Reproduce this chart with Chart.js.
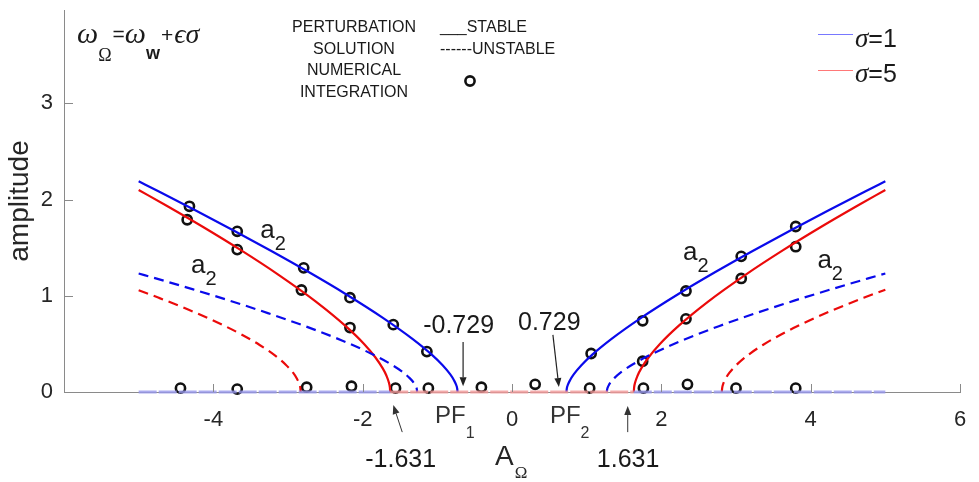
<!DOCTYPE html>
<html><head><meta charset="utf-8">
<script src="https://cdn.jsdelivr.net/npm/chart.js@4"></script>
<style>html,body{margin:0;padding:0;background:#fff}</style>
</head><body><canvas id="c" width="979" height="482"></canvas>
<script>
// ---- data ----
const xTicks = [-6, -4, -2, 0, 2, 4, 6];
const yTicks = [0, 1, 2, 3];

// sigma = 1, stable (solid blue)
const blueStableL_A = [-5, -4.729, -4.229, -3.729, -3.229, -2.729, -2.229, -1.729, -1.329, -1.079, -0.929, -0.829, -0.779, -0.749, -0.734, -0.729];
const blueStableL_a = [2.19, 2.084, 1.884, 1.679, 1.468, 1.249, 1.019, 0.771, 0.55, 0.391, 0.278, 0.185, 0.125, 0.076, 0.036, 0];
const blueStableR_A = [0.729, 0.734, 0.749, 0.779, 0.829, 0.929, 1.079, 1.329, 1.729, 2.229, 2.729, 3.229, 3.729, 4.229, 4.729, 5];
const blueStableR_a = [0, 0.036, 0.076, 0.125, 0.185, 0.278, 0.391, 0.55, 0.771, 1.019, 1.249, 1.468, 1.679, 1.884, 2.084, 2.19];
// sigma = 5, stable (solid red)
const redStableL_A = [-5, -4.631, -4.131, -3.631, -3.131, -2.631, -2.231, -1.981, -1.831, -1.731, -1.681, -1.651, -1.636, -1.631];
const redStableL_a = [2.10, 1.938, 1.712, 1.474, 1.22, 0.942, 0.687, 0.499, 0.361, 0.245, 0.169, 0.104, 0.05, 0];
const redStableR_A = [1.631, 1.636, 1.651, 1.681, 1.731, 1.831, 1.981, 2.231, 2.631, 3.131, 3.631, 4.131, 4.631, 5];
const redStableR_a = [0, 0.05, 0.104, 0.169, 0.245, 0.361, 0.499, 0.687, 0.942, 1.22, 1.474, 1.712, 1.938, 2.10];
// sigma = 1, unstable (dashed blue)
const blueUnstL_A = [-5, -4.77, -4.27, -3.77, -3.27, -2.77, -2.27, -1.87, -1.62, -1.47, -1.37, -1.32, -1.29, -1.275, -1.27];
const blueUnstL_a = [1.232, 1.181, 1.066, 0.947, 0.82, 0.684, 0.533, 0.393, 0.288, 0.211, 0.144, 0.10, 0.061, 0.03, 0];
const blueUnstR_A = [1.27, 1.275, 1.29, 1.32, 1.37, 1.47, 1.62, 1.87, 2.27, 2.77, 3.27, 3.77, 4.27, 4.77, 5];
const blueUnstR_a = [0, 0.03, 0.061, 0.10, 0.144, 0.211, 0.288, 0.393, 0.533, 0.684, 0.82, 0.947, 1.066, 1.181, 1.232];
// sigma = 5, unstable (dashed red)
const redUnstL_A = [-5, -4.73, -4.33, -3.93, -3.63, -3.38, -3.18, -3.03, -2.93, -2.88, -2.85, -2.835, -2.83];
const redUnstL_a = [1.058, 0.979, 0.855, 0.717, 0.601, 0.489, 0.383, 0.284, 0.198, 0.138, 0.087, 0.043, 0];
const redUnstR_A = [2.81, 2.815, 2.83, 2.86, 2.91, 3.01, 3.16, 3.36, 3.61, 3.91, 4.31, 4.71, 5];
const redUnstR_a = [0, 0.043, 0.087, 0.138, 0.198, 0.284, 0.383, 0.489, 0.601, 0.717, 0.855, 0.979, 1.063];
// trivial solution a = 0
const trivialOuterL_A = [-5, -1.631];
const trivialOuterR_A = [1.631, 5];
const trivialInner_A = [-1.631, 1.631];
// numerical integration points
const numA = [-4.32, -4.35, -3.68, -3.68, -2.79, -2.82, -2.17, -2.17, -1.59, -1.14,
              1.06, 1.75, 1.75, 2.33, 2.33, 3.07, 3.07, 3.80, 3.80,
              -4.44, -3.68, -2.75, -2.15, -1.56, -1.12, -0.41, 0.31, 1.04, 1.76, 2.35, 3.0, 3.8];
const numAmp = [1.93, 1.79, 1.67, 1.48, 1.29, 1.06, 0.98, 0.67, 0.70, 0.42,
                0.40, 0.74, 0.32, 1.05, 0.76, 1.41, 1.18, 1.72, 1.51,
                0.04, 0.03, 0.05, 0.06, 0.04, 0.04, 0.05, 0.08, 0.04, 0.04, 0.08, 0.04, 0.04];

// ---- build chart ----
const pts = (xs, ys) => xs.map((x, i) => ({x, y: ys[i]}));
const zeros = xs => xs.map(() => 0);
const BLUE = 'rgb(10,10,235)', RED = 'rgb(235,10,10)';
const LAV = 'rgba(150,150,235,0.8)', PINK = 'rgba(240,150,150,0.8)';
function line(data, color, dash, w) {
  return {data, showLine: true, borderColor: color, backgroundColor: color, borderWidth: w || 2.2,
          borderDash: dash || [], pointRadius: 0, cubicInterpolationMode: 'monotone', clip: false};
}
const datasets = [
  line(pts(trivialOuterL_A, zeros(trivialOuterL_A)), LAV, [18, 2], 3),
  line(pts(trivialOuterR_A, zeros(trivialOuterR_A)), LAV, [18, 2], 3),
  line(pts(trivialInner_A, zeros(trivialInner_A)), PINK, [18, 2], 3),
  line(pts(blueUnstL_A, blueUnstL_a), BLUE, [10, 6]),
  line(pts(blueUnstR_A, blueUnstR_a), BLUE, [10, 6]),
  line(pts(redUnstL_A, redUnstL_a), RED, [10, 6]),
  line(pts(redUnstR_A, redUnstR_a), RED, [10, 6]),
  line(pts(blueStableL_A, blueStableL_a), BLUE),
  line(pts(blueStableR_A, blueStableR_a), BLUE),
  line(pts(redStableL_A, redStableL_a), RED),
  line(pts(redStableR_A, redStableR_a), RED),
  {data: pts(numA, numAmp), showLine: false, pointRadius: 4.6, pointBorderWidth: 2.6,
   pointBorderColor: '#111', pointBackgroundColor: 'rgba(0,0,0,0)', clip: false}
];

const TXT = '#262626', AX = '#8a8a8a';
const SANS = '"Liberation Sans", Arial, sans-serif';
const SERIF = '"Liberation Serif", "Times New Roman", serif';

function runs(ctx, x, y, list) {
  for (const r of list) {
    ctx.font = r.f;
    ctx.fillText(r.t, x, y + (r.dy || 0));
    x += ctx.measureText(r.t).width + (r.sp || 0);
  }
}
function arrow(ctx, x1, y1, x2, y2, color, w) {
  const ang = Math.atan2(y2 - y1, x2 - x1), L = 9, W = 3.5;
  ctx.strokeStyle = color; ctx.fillStyle = color; ctx.lineWidth = w;
  ctx.beginPath(); ctx.moveTo(x1, y1);
  ctx.lineTo(x2 - L * Math.cos(ang), y2 - L * Math.sin(ang)); ctx.stroke();
  ctx.beginPath(); ctx.moveTo(x2, y2);
  ctx.lineTo(x2 - L * Math.cos(ang) + W * Math.sin(ang), y2 - L * Math.sin(ang) - W * Math.cos(ang));
  ctx.lineTo(x2 - L * Math.cos(ang) - W * Math.sin(ang), y2 - L * Math.sin(ang) + W * Math.cos(ang));
  ctx.closePath(); ctx.fill();
}

const deco = {
  id: 'deco',
  afterDraw(chart) {
    const ctx = chart.ctx, xs = chart.scales.x, ys = chart.scales.y;
    const X = v => xs.getPixelForValue(v), Y = v => ys.getPixelForValue(v);
    ctx.save();
    // inward tick marks
    ctx.strokeStyle = AX; ctx.lineWidth = 1;
    xTicks.forEach(t => { if (t === xTicks[0]) return; const p = Math.round(X(t)) + 0.5;
      ctx.beginPath(); ctx.moveTo(p, Y(0)); ctx.lineTo(p, Y(0) - 8); ctx.stroke(); });
    yTicks.forEach(t => { const p = Math.round(Y(t)) + 0.5;
      ctx.beginPath(); ctx.moveTo(X(-6), p); ctx.lineTo(X(-6) + 9, p); ctx.stroke(); });

    ctx.fillStyle = '#1a1a1a'; ctx.textBaseline = 'alphabetic'; ctx.textAlign = 'left';
    // formula
    runs(ctx, 77, 43, [
      {t: 'ω', f: 'italic 30px ' + SERIF},
      {t: 'Ω', f: '18px ' + SERIF, dy: 18, sp: 1},
      {t: '=', f: '21px ' + SANS, dy: -2},
      {t: 'ω', f: 'italic 30px ' + SERIF},
      {t: 'w', f: 'bold 18px ' + SANS, dy: 16, sp: 1},
      {t: '+', f: '21px ' + SANS, dy: -1, sp: 1},
      {t: 'ϵσ', f: 'italic 28px ' + SERIF}
    ]);
    // perturbation legend text
    ctx.font = '16px ' + SANS; ctx.textAlign = 'center';
    ['PERTURBATION', 'SOLUTION', 'NUMERICAL', 'INTEGRATION'].forEach((s, i) => ctx.fillText(s, 354, 32 + i * 21.7));
    ctx.textAlign = 'left';
    ctx.fillText('___STABLE', 440, 32);
    ctx.fillText('------UNSTABLE', 440, 53.5);
    ctx.beginPath(); ctx.lineWidth = 2.6; ctx.strokeStyle = '#111';
    ctx.arc(470, 81, 4.6, 0, Math.PI * 2); ctx.stroke();
    // sigma legend
    ctx.lineWidth = 1.2;
    ctx.strokeStyle = 'rgb(120,120,255)'; ctx.beginPath(); ctx.moveTo(818, 34.5); ctx.lineTo(853, 34.5); ctx.stroke();
    ctx.strokeStyle = 'rgb(255,120,120)'; ctx.beginPath(); ctx.moveTo(818, 70.5); ctx.lineTo(853, 70.5); ctx.stroke();
    ctx.fillStyle = '#1a1a1a';
    runs(ctx, 855, 47, [{t: 'σ', f: 'italic 27px ' + SERIF}, {t: '=1', f: '25px ' + SANS}]);
    runs(ctx, 855, 82, [{t: 'σ', f: 'italic 27px ' + SERIF}, {t: '=5', f: '25px ' + SANS}]);

    // a2 labels
    const a2 = (A, a) => runs(ctx, X(A), Y(a), [{t: 'a', f: '26px ' + SANS}, {t: '2', f: '20px ' + SANS, dy: 12}]);
    a2(-3.37, 1.60); a2(-4.30, 1.24); a2(2.29, 1.375); a2(4.09, 1.29);

    // bifurcation annotations
    ctx.font = '25px ' + SANS;
    ctx.fillText('-0.729', X(-1.19), Y(0.615));
    ctx.fillText('0.729', X(0.08), Y(0.646));
    ctx.fillText('-1.631', X(-1.965), Y(-0.78));
    ctx.fillText('1.631', X(1.136), Y(-0.78));
    arrow(ctx, X(-0.655), Y(0.52), X(-0.655), Y(0.06), '#222', 1.2);
    arrow(ctx, X(0.548), Y(0.594), X(0.628), Y(0.052), '#222', 1.2);
    arrow(ctx, X(-1.47), Y(-0.417), X(-1.59), Y(-0.135), '#333', 1);
    arrow(ctx, X(1.55), Y(-0.417), X(1.55), Y(-0.146), '#333', 1);
    runs(ctx, X(-1.03), Y(-0.323), [{t: 'PF', f: '24px ' + SANS}, {t: '1', f: '16px ' + SANS, dy: 15, sp: 2}]);
    runs(ctx, X(0.508), Y(-0.323), [{t: 'PF', f: '24px ' + SANS}, {t: '2', f: '16px ' + SANS, dy: 15, sp: 2}]);
    // x axis title
    ctx.fillStyle = TXT;
    runs(ctx, X(-0.227), Y(-0.76), [{t: 'A', f: '28px ' + SANS, sp: 1}, {t: 'Ω', f: '17px ' + SERIF, dy: 13}]);
    ctx.restore();
  }
};

new Chart(document.getElementById('c'), {
  type: 'scatter',
  data: {datasets},
  options: {
    responsive: false, animation: false, devicePixelRatio: 1,
    layout: {padding: {top: 10, right: 19, bottom: 0, left: 0}},
    plugins: {legend: {display: false}, tooltip: {enabled: false}},
    scales: {
      x: {
        type: 'linear', min: -6, max: 6,
        afterBuildTicks: s => { s.ticks = xTicks.map(v => ({value: v})); },
        afterFit: s => { s.height = 90; s.paddingLeft = 0; s.paddingRight = 0; },
        grid: {display: false, drawTicks: false},
        border: {display: true, color: AX, width: 1},
        ticks: {padding: 15, color: TXT, font: {family: SANS, size: 22},
                callback: v => (v === xTicks[0] ? '' : String(v))}
      },
      y: {
        type: 'linear', min: 0, max: 3.97,
        afterBuildTicks: s => { s.ticks = yTicks.map(v => ({value: v})); },
        afterFit: s => { s.width = 64; s.paddingTop = 0; s.paddingBottom = 0; },
        grid: {display: false, drawTicks: false},
        border: {display: true, color: AX, width: 1},
        ticks: {padding: 11, color: TXT, font: {family: SANS, size: 22}},
        title: {display: true, text: 'amplitude', color: TXT, padding: {top: 3, bottom: 0},
                font: {family: SANS, size: 28}}
      }
    }
  },
  plugins: [deco]
});
</script></body></html>
